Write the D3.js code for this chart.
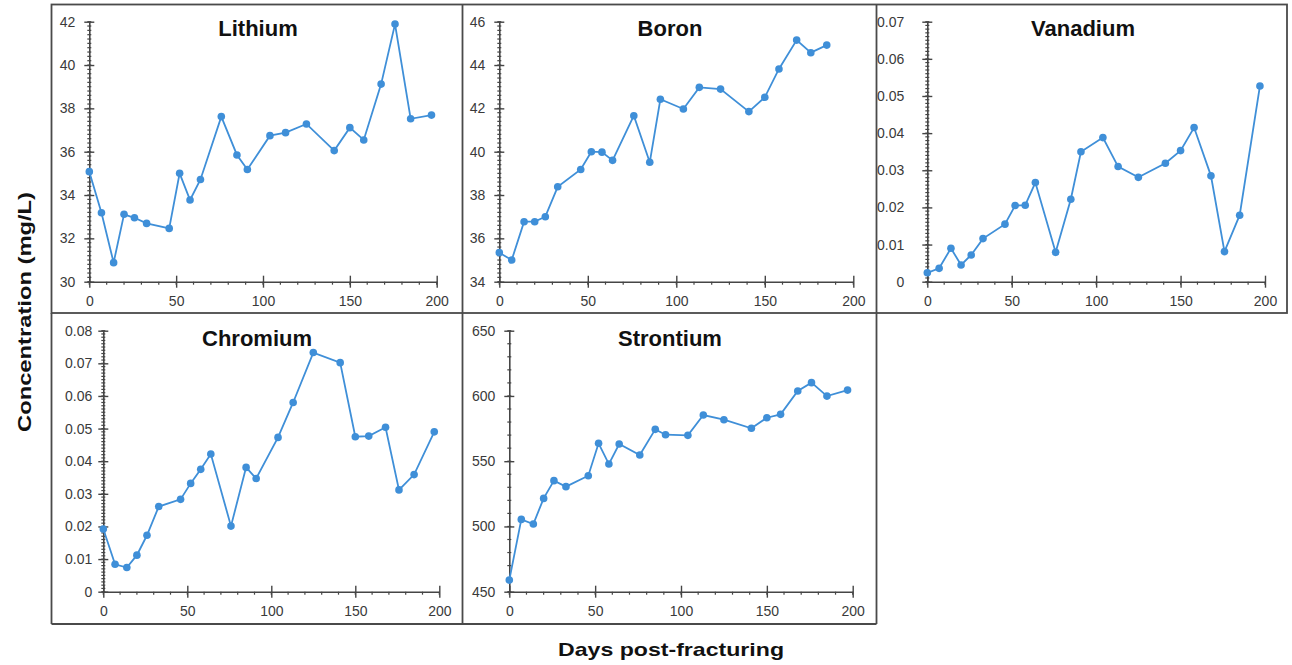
<!DOCTYPE html>
<html><head><meta charset="utf-8">
<script src="https://cdn.jsdelivr.net/npm/d3@7"></script>
<style>
body{margin:0;background:#fff;}
svg{display:block;font-family:"Liberation Sans",Arial,sans-serif;}
</style></head>
<body><svg id="c" width="1292" height="665"></svg>
<script>
// ---- data ----
const days      = [0,7,14,20,26,33,46,52,58,64,76,85,91,104,113,125,141,150,158,168,176,185,197];
const lithium   = [35.08,33.18,30.88,33.11,32.95,32.69,32.46,35.0,33.77,34.72,37.62,35.85,35.18,36.74,36.88,37.28,36.05,37.11,36.54,39.12,41.89,37.52,37.69];
const boron     = [35.34,35.0,36.77,36.77,37.0,38.38,39.18,40.0,39.98,39.6,41.66,39.51,42.42,41.97,42.97,42.89,41.85,42.51,43.82,45.15,44.57,44.92];
const vanadium  = [0.0024,0.0036,0.0090,0.0045,0.0072,0.0116,0.0155,0.0205,0.0206,0.0267,0.0079,0.0222,0.0350,0.0388,0.0310,0.0281,0.0319,0.0353,0.0415,0.0285,0.0081,0.0179,0.0527];
const chromium  = [0.0192,0.0084,0.0074,0.0112,0.0173,0.0261,0.0283,0.0332,0.0375,0.0422,0.0201,0.0381,0.0347,0.0473,0.0580,0.0733,0.0702,0.0475,0.0477,0.0504,0.0312,0.0359,0.0490];
const strontium = [458.9,505.4,501.9,521.5,535.1,530.5,538.9,563.7,547.8,563.2,554.7,574.4,570.3,569.8,585.4,581.8,575.2,583.3,585.9,603.8,610.2,599.9,604.5];

const titles    = ["Lithium","Boron","Vanadium","Chromium","Strontium"];
const xTicks    = [0,50,100,150,200];
const yTicksLi  = [30,32,34,36,38,40,42];
const yTicksB   = [34,36,38,40,42,44,46];
const yTicksV   = [0,0.01,0.02,0.03,0.04,0.05,0.06,0.07];
const yTicksCr  = [0,0.01,0.02,0.03,0.04,0.05,0.06,0.07,0.08];
const yTicksSr  = [450,500,550,600,650];
const xTitle    = "Days post-fracturing";
const yTitle    = "Concentration (mg/L)";

// ---- layout ----
const panels = [
  {title:titles[0], vals:lithium,  ticks:yTicksLi, minor:0.2,   pad:9,  x0:89.3,  x1:436.7, yTop:21.7,  yBot:281.7, tx:258,  ty:36},
  {title:titles[1], vals:boron,    ticks:yTicksB,  minor:0.2,   pad:9,  x0:499.3, x1:853.3, yTop:21.7,  yBot:281.7, tx:670,  ty:36},
  {title:titles[2], vals:vanadium, ticks:yTicksV,  minor:0.001, pad:18, x0:927.3, x1:1265,  yTop:21.7,  yBot:281.7, tx:1083, ty:36},
  {title:titles[3], vals:chromium, ticks:yTicksCr, minor:0.001, pad:6,  x0:103.3, x1:439.3, yTop:330.7, yBot:591.7, tx:257,  ty:346},
  {title:titles[4], vals:strontium,ticks:yTicksSr, minor:10,    pad:9,  x0:509.3, x1:852.7, yTop:330.7, yBot:591.7, tx:670,  ty:346}
];

const svg = d3.select("#c");
const blue = "#3f8fd8";
const axisCol = "#454545";
const labCol = "#3a3a3a";

function fmt(v){
  if (v === 0) return "0";
  if (Math.abs(v) < 1) return d3.format(".2f")(v);
  return String(v);
}

panels.forEach(p => {
  const g = svg.append("g");
  const ticks = p.ticks;
  const x = d3.scaleLinear().domain([0,200]).range([p.x0,p.x1]);
  const y = d3.scaleLinear().domain([ticks[0], ticks[ticks.length-1]]).range([p.yBot,p.yTop]);

  // minor ticks
  const yMinor = d3.range(ticks[0], ticks[ticks.length-1] + p.minor/2, p.minor);
  g.append("g").selectAll("line").data(yMinor).join("line")
    .attr("x1", x(0)-2).attr("x2", x(0)+2)
    .attr("y1", d=>y(d)).attr("y2", d=>y(d))
    .attr("stroke", axisCol).attr("stroke-width", 1.2);
  const xMinor = d3.range(0, 201, 10);
  g.append("g").selectAll("line").data(xMinor).join("line")
    .attr("x1", d=>x(d)).attr("x2", d=>x(d))
    .attr("y1", y.range()[0]).attr("y2", y.range()[0]+3)
    .attr("stroke", axisCol).attr("stroke-width", 1.2);

  // y axis
  const ya = d3.axisLeft(y).tickValues(ticks).tickFormat(fmt).tickSizeInner(5).tickSizeOuter(0).tickPadding(p.pad);
  const yg = g.append("g").attr("transform", `translate(${x(0)},0)`).call(ya);
  yg.select(".domain").attr("stroke", axisCol).attr("stroke-width", 1.6);
  yg.selectAll(".tick line").attr("x2", 5).attr("x1",-5).attr("stroke", axisCol).attr("stroke-width",1.4);
  yg.selectAll(".tick text").attr("fill", labCol).attr("font-size", 14);

  // x axis
  const xa = d3.axisBottom(x).tickValues(xTicks).tickSizeInner(6).tickSizeOuter(0).tickPadding(8);
  const xg = g.append("g").attr("transform", `translate(0,${y.range()[0]})`).call(xa);
  xg.select(".domain").attr("stroke", axisCol).attr("stroke-width", 1.6);
  xg.selectAll(".tick line").attr("y1",-6).attr("y2",6).attr("stroke", axisCol).attr("stroke-width",1.4);
  xg.selectAll(".tick text").attr("fill", labCol).attr("font-size", 14);

  // series
  const pts = p.vals.map((v,i)=>[days[i], v]);
  g.append("path").datum(pts)
    .attr("d", d3.line().x(d=>x(d[0])).y(d=>y(d[1])))
    .attr("fill","none").attr("stroke", blue).attr("stroke-width", 1.8);
  g.append("g").selectAll("circle").data(pts).join("circle")
    .attr("cx", d=>x(d[0])).attr("cy", d=>y(d[1])).attr("r", 3.8).attr("fill", blue);

  g.append("text").attr("x", p.tx).attr("y", p.ty).attr("text-anchor","middle")
    .attr("font-weight","bold").attr("font-size", 22).attr("fill","#111").text(p.title);
});

// frames
const frame = svg.append("g").attr("fill","none").attr("stroke","#4a4a4a").attr("stroke-width",1.8);
frame.append("rect").attr("x",51.5).attr("y",4.5).attr("width",1235.5).attr("height",308.5);
frame.append("line").attr("x1",462.5).attr("x2",462.5).attr("y1",4.5).attr("y2",624);
frame.append("line").attr("x1",876.5).attr("x2",876.5).attr("y1",4.5).attr("y2",624);
frame.append("line").attr("x1",51.5).attr("x2",51.5).attr("y1",313).attr("y2",624);
frame.append("line").attr("x1",51.5).attr("x2",876.5).attr("y1",624).attr("y2",624);

// axis titles
svg.append("text").attr("x", 671).attr("y", 656).attr("text-anchor","middle")
  .attr("font-weight","bold").attr("font-size", 19).attr("fill","#111")
  .attr("textLength", 226).attr("lengthAdjust","spacingAndGlyphs").text(xTitle);
svg.append("text").attr("transform","translate(31,312) rotate(-90)").attr("text-anchor","middle")
  .attr("font-weight","bold").attr("font-size", 19).attr("fill","#111")
  .attr("textLength", 240).attr("lengthAdjust","spacingAndGlyphs").text(yTitle);
</script></body></html>
